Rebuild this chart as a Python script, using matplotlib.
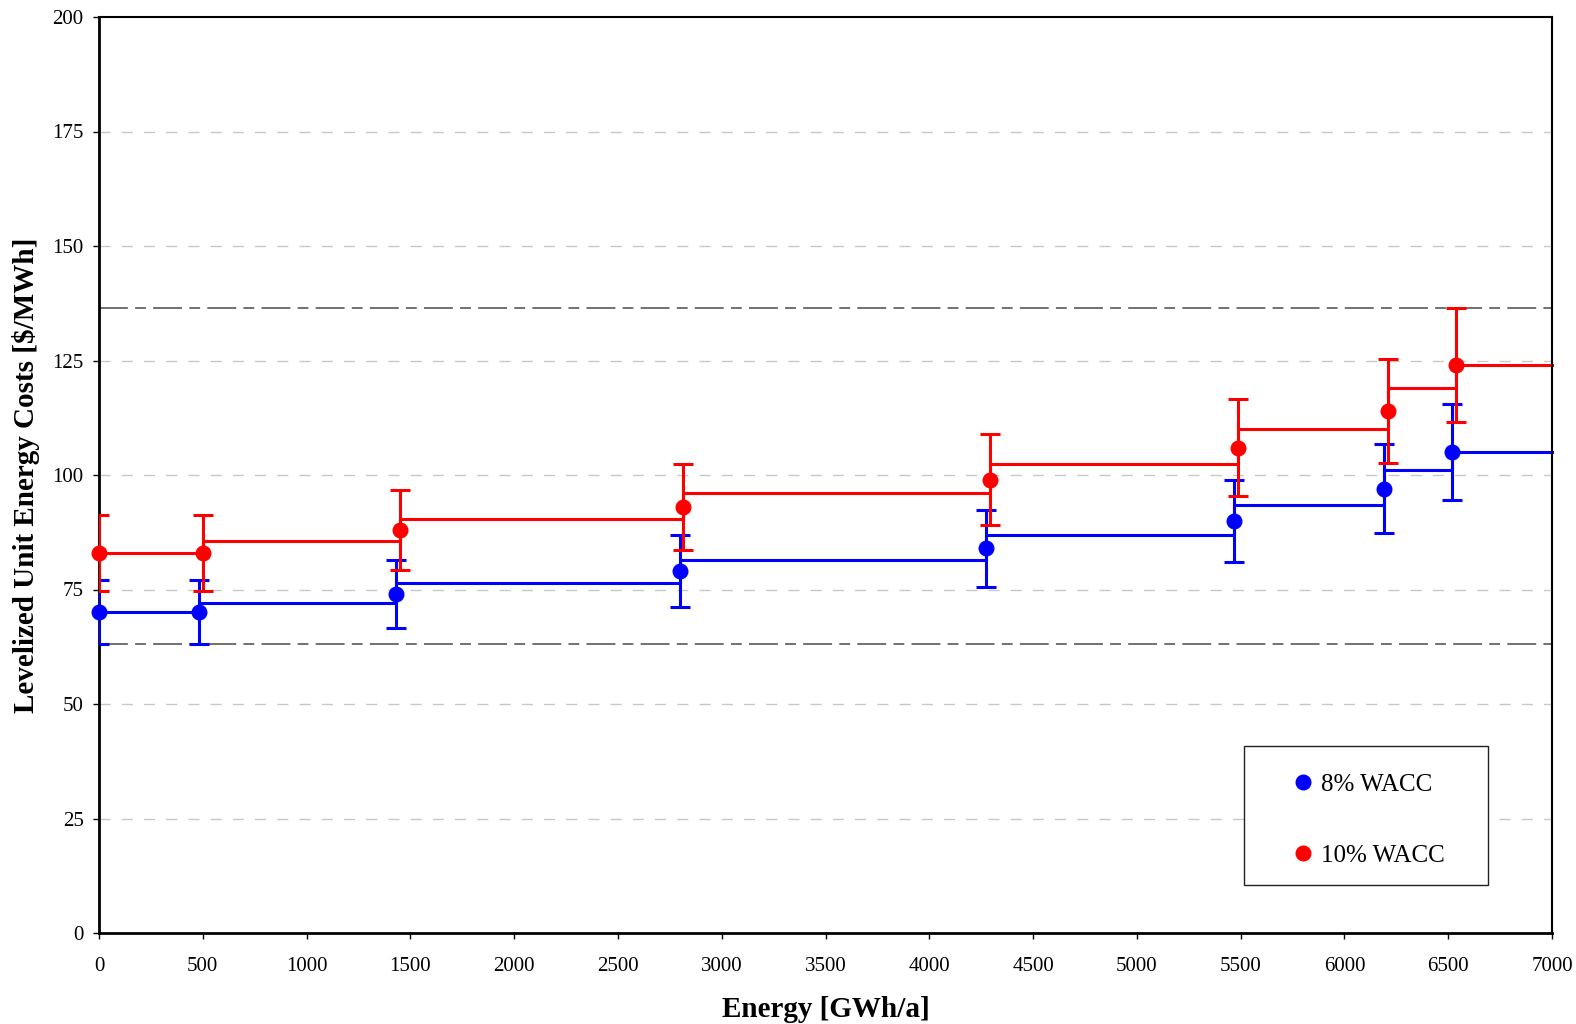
import matplotlib
matplotlib.use("Agg")
import matplotlib.pyplot as plt
from matplotlib.patches import Rectangle
import numpy as np

# ---- data ----
blue_x = [0, 484, 1432, 2797, 4272, 5466, 6191, 6519]
blue_y = [70, 70, 74, 79, 84, 90, 97, 105]
blue_err = [7.0, 7.0, 7.4, 7.9, 8.4, 9.0, 9.7, 10.5]
blue_steps = [70, 72, 76.5, 81.5, 87, 93.5, 101, 105]

red_x = [0, 503, 1451, 2815, 4291, 5488, 6210, 6538]
red_y = [83, 83, 88, 93, 99, 106, 114, 124]
red_err = [8.3, 8.3, 8.8, 9.3, 9.9, 10.6, 11.4, 12.4]
red_steps = [83, 85.5, 90.5, 96, 102.5, 110, 119, 124]

band_lines = [63, 136.4]
x_end = 7000

xticks = list(range(0, 7001, 500))
yticks = list(range(0, 201, 25))

series_labels = ["8% WACC", "10% WACC"]
xlabel = "Energy [GWh/a]"
ylabel = "Levelized Unit Energy Costs [$/MWh]"

plt.rcParams['font.family'] = ['Liberation Serif', 'DejaVu Serif']

fig = plt.figure(figsize=(15.76, 10.24), dpi=100)
ax = fig.add_axes([99/1576, 1-933/1024, (1552-99)/1576, (933-17)/1024])

# grid
for v in yticks[1:-1]:
    ax.axhline(v, color='#c8c8c8', lw=1.0, dashes=(8, 8), zorder=0)

# band lines
for v in band_lines:
    ax.axhline(v, color='#666666', lw=1.3, dashes=(16, 4, 6, 4), zorder=1)

def draw(xs, ys, errs, steps, color, label):
    sx = list(xs) + [x_end]
    sy = list(steps) + [steps[-1]]
    ax.step(sx, sy, where='post', color=color, lw=2.2, zorder=2, clip_on=False)
    ax.errorbar(xs, ys, yerr=errs, fmt='none', ecolor=color, elinewidth=2.2,
                capsize=7, capthick=2.2, zorder=3)
    ax.plot(xs, ys, 'o', color=color, ms=10.5, zorder=4, label=label, clip_on=False)

draw(blue_x, blue_y, blue_err, blue_steps, '#0000ff', series_labels[0])
draw(red_x, red_y, red_err, red_steps, '#ff0000', series_labels[1])

ax.set_xlim(0, 7000)
ax.set_ylim(0, 200)
ax.set_xticks(xticks)
ax.set_yticks(yticks)
ax.tick_params(axis='both', direction='out', length=4, width=1, labelsize=15)
ax.tick_params(axis='y', pad=7)
ax.tick_params(axis='x', pad=13)

for s in ['left', 'bottom']:
    ax.spines[s].set_linewidth(2.0)
for s in ['top', 'right']:
    ax.spines[s].set_linewidth(1.5)

ax.set_xlabel(xlabel, fontsize=21, fontweight='bold', labelpad=15)
ax.set_ylabel(ylabel, fontsize=21, fontweight='bold', labelpad=9)

# legend frame
ax.add_patch(Rectangle((0.788, 0.0524), 0.1679, 0.1518, transform=ax.transAxes,
                       facecolor='white', edgecolor='#222222', lw=1.0, zorder=5))
leg = ax.legend(loc='upper left', bbox_to_anchor=(0.8218, 0.1741), borderaxespad=0,
                fontsize=18, frameon=False,
                handlelength=0.8, handletextpad=0.3, labelspacing=1.92,
                borderpad=0, markerscale=1.0)
leg.set_zorder(6)

fig.savefig("out.png", dpi=100)
